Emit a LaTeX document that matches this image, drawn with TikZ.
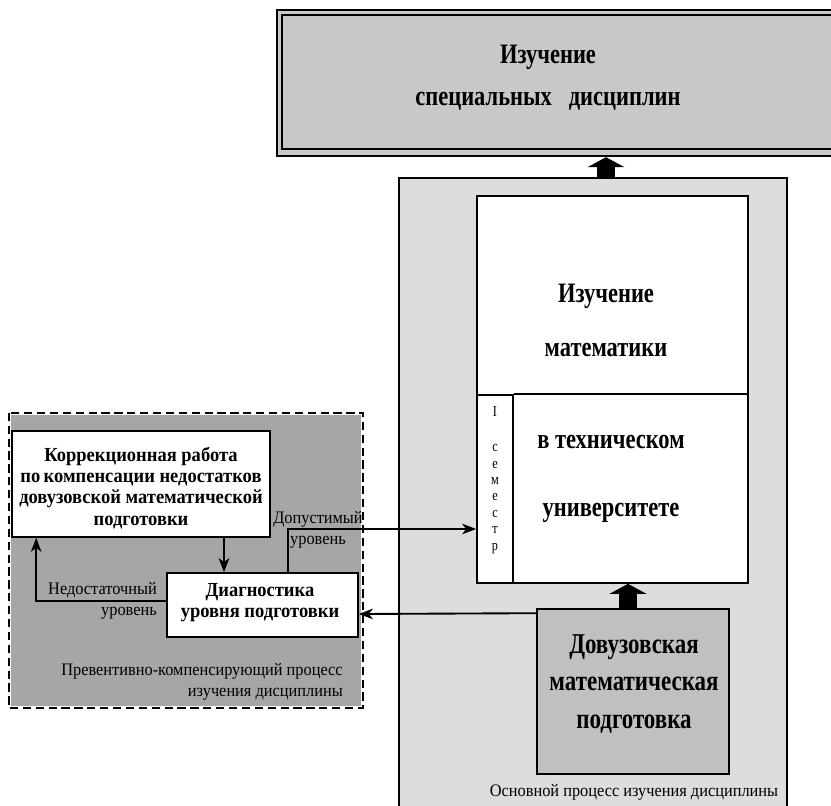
\documentclass[tikz,border=0pt]{standalone}
\usepackage{fontspec}
\setmainfont{Liberation Serif}
\newfontfamily\cnd[FakeStretch=0.8]{Liberation Serif}
\newfontfamily\cndb[FakeStretch=0.93]{Liberation Serif}
\usetikzlibrary{arrows.meta,calc,fit}
\definecolor{specgray}{RGB}{200,200,200}
\definecolor{maingray}{RGB}{221,221,221}
\definecolor{prevgray}{RGB}{166,166,166}
\definecolor{dovgray}{RGB}{192,192,192}
\tikzset{
  box/.style={draw, line width=1.4pt, inner sep=0pt},
  arr/.style={line width=1.6pt, -{Stealth[length=12pt,width=9pt,inset=3.5pt]}},
  blockarr/.style={line width=15pt, -{Triangle[length=8.5pt,width=31pt]}},
  lbl/.style={font=\cndb\fontsize{15}{18.5}\selectfont, inner sep=0pt},
  bigtxt/.style={font=\cnd\bfseries\fontsize{24}{36}\selectfont, align=center, inner sep=0pt},
  midtxt/.style={font=\cndb\bfseries\fontsize{17}{18}\selectfont, align=center, inner sep=0pt}
}
\begin{document}
\begin{tikzpicture}[x=0.03cm, y=-0.03cm]
  \useasboundingbox (0,0) rectangle (831,806);
  % main process
  \node[box, line width=1pt, fill=maingray, fit={(399,178) (787,815)}] (main) {};
  \node[lbl] at (634,792) {Основной процесс изучения дисциплины};
  % preventive-compensating process
  \node[fill=prevgray, draw=white, line width=2pt, inner sep=0pt, fit={(10,414) (362,707)}] (prev) {};
  \draw[line width=2pt, dash pattern=on 7pt off 4pt] (prev.north west) rectangle (prev.south east);
  \node[lbl, align=right, anchor=east] at (343,682) {Превентивно-компенсирующий процесс\\изучения дисциплины};
  % special disciplines
  \node[draw, line width=2pt, fill=specgray, inner sep=0pt, fit={(277,10) (845,156)}] (spec) {};
  \draw[line width=1.2pt] (282,15) rectangle (845,149);
  \node[bigtxt] at (548,78) {Изучение\\специальных\ \ \ дисциплин};
  % mathematics
  \node[box, fill=white, fit={(477,196) (748,583)}] (math) {};
  \node[box, fit={(477,395) (513,583)}] (sem) {};
  \draw[line width=1.4pt] (sem.north east) -- (math.east |- sem.north);
  \node[font=\cnd\bfseries\fontsize{24}{46}\selectfont, align=center, inner sep=0pt] at (606,320) {Изучение\\математики};
  \node[font=\cnd\bfseries\fontsize{24}{58}\selectfont, align=center, inner sep=0pt] at (611,479) {в техническом\\университете};
  \node[font=\cnd\fontsize{13}{14}\selectfont, align=center, inner sep=0pt] at (495,480) {I\\[16pt]с\\е\\м\\е\\с\\т\\р};
  % pre-university
  \node[box, fill=dovgray, fit={(537,609) (729,774)}] (dov) {};
  \node[font=\cnd\bfseries\fontsize{24.5}{32}\selectfont, align=center, inner sep=0pt] at (634,684) {Довузовская\\математическая\\подготовка};
  % correction and diagnostics
  \node[box, fill=white, fit={(12,431) (270,537)}] (corr) {};
  \node[midtxt] at (141,488) {Коррекционная работа\\по\,компенсации недостатков\\довузовской математической\\подготовки};
  \node[box, fill=white, fit={(167,573) (358,637)}] (diag) {};
  \node[midtxt] at (260,603) {Диагностика\\уровня подготовки};
  \node[lbl, align=center] at (318,530) {Допустимый\\уровень};
  \node[lbl, align=right, anchor=east] at (157,601) {Недостаточный\\уровень};
  % connectors
  \draw[arr] ($(corr.south)+(83,0)$) -- ($(diag.north)+(-38.5,0)$);
  \draw[arr] ($(diag.west)+(0,-4)$) -| ($(corr.south west)+(25,0)$);
  \draw[arr] ($(diag.north)+(25.5,0)$) |- ($(sem.west)+(0,40)$);
  \draw[arr] ($(dov.north west)+(0,5)$) -- ($(diag.east)+(0,9)$);
  \draw[blockarr] ($(dov.north)+(-5,0)$) -- ($(math.south)+(15.5,0)$);
  \draw[blockarr] ($(main.north)+(13,0)$) -- ($(spec.south)+(45,0)$);
\end{tikzpicture}
\end{document}
